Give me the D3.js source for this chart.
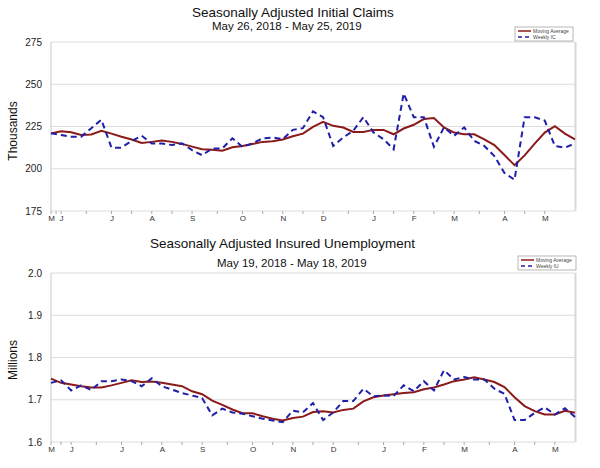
<!DOCTYPE html>
<html>
<head>
<meta charset="utf-8">
<script src="https://cdn.jsdelivr.net/npm/d3@7"></script>
<style>
  body { margin: 0; background: #fff; }
  svg { font-family: "Liberation Sans", Arial, sans-serif; }
  .grid line { stroke: #dcdcdc; stroke-width: 1; }
  .x-axis text { font-size: 8px; fill: #333; }
  .x-axis line { stroke: #999; }
  .y-axis text { font-size: 10px; fill: #222; }
</style>
</head>
<body>
<div id="wrapper"></div>
<script>
// 1. Data

// initial claims, thousands, weeks from May 26 2018
const icStart = "2018-05-26";
const icWeekly = [221, 220, 219, 219, 224, 229, 212.5, 212.5, 216.5, 219.5, 215, 215, 214, 215,
  211, 208, 212, 212, 218, 213, 215, 218, 218.5, 217.5, 223, 224, 234, 230.5, 213.5, 218.5,
  222.5, 230.5, 221.5, 217.5, 211.5, 244.5, 230.5, 230.5, 213, 224.5, 219.5, 224.5, 216.5,
  213.5, 207.5, 197.5, 193.5, 230.5, 230.5, 228.5, 213.5, 212.5, 215];
const icAverage = [220.8, 222.2, 221.6, 220, 220.3, 222.4, 220.8, 218.9, 217.3, 215.3, 215.9,
  216.7, 215.9, 214.7, 213.1, 211.5, 211.3, 210.7, 212.7, 213.5, 214.7, 215.9, 216.3, 217.3,
  219.2, 220.8, 224.8, 227.7, 225.4, 224.4, 221.8, 221.8, 223, 223, 220.4, 223.8, 226, 229.4,
  230, 224.4, 221.4, 220.4, 220.4, 217.4, 214, 208.1, 202.1, 207.9, 214.9, 221.4, 225.2,
  220.8, 217.4];

// insured unemployment, millions, weeks from May 19 2018
const iuStart = "2018-05-19";
const iuWeekly = [1.740, 1.746, 1.722, 1.734, 1.723, 1.744, 1.744, 1.748, 1.744, 1.732, 1.751,
  1.732, 1.724, 1.716, 1.710, 1.704, 1.663, 1.679, 1.670, 1.667, 1.661, 1.655, 1.651, 1.647,
  1.674, 1.670, 1.692, 1.652, 1.670, 1.697, 1.697, 1.726, 1.708, 1.710, 1.709, 1.734, 1.720,
  1.744, 1.722, 1.770, 1.748, 1.754, 1.748, 1.748, 1.726, 1.714, 1.652, 1.652, 1.669, 1.682,
  1.665, 1.680, 1.659];
const iuAverage = [1.750, 1.740, 1.736, 1.732, 1.729, 1.729, 1.734, 1.740, 1.746, 1.742, 1.743,
  1.740, 1.736, 1.732, 1.720, 1.713, 1.698, 1.688, 1.677, 1.668, 1.668, 1.661, 1.655, 1.651,
  1.657, 1.660, 1.671, 1.673, 1.670, 1.676, 1.679, 1.696, 1.706, 1.710, 1.713, 1.716, 1.718,
  1.725, 1.729, 1.736, 1.744, 1.748, 1.753, 1.748, 1.742, 1.730, 1.706, 1.685, 1.673, 1.665,
  1.665, 1.674, 1.669];

const monthTickDates = ["2018-06-02", "2018-07-07", "2018-08-04", "2018-09-01", "2018-10-06",
  "2018-11-03", "2018-12-01", "2019-01-05", "2019-02-02", "2019-03-02", "2019-04-06", "2019-05-04"];
const monthTickLabels = ["J", "J", "A", "S", "O", "N", "D", "J", "F", "M", "A", "M"];

const icTicks = [175, 200, 225, 250, 275];
const iuTicks = [1.6, 1.7, 1.8, 1.9, 2.0];

// 2. Dimensions

const dimensions = {
  width: 600,
  height: 468,
  left: 51,
  right: 575
};

const parseDate = d3.timeParse("%Y-%m-%d");

const wrapper = d3.select("#wrapper")
  .append("svg")
  .attr("width", dimensions.width)
  .attr("height", dimensions.height);

function drawPanel(opts) {
  const start = parseDate(opts.start);
  const dates = opts.weekly.map((d, i) => d3.timeDay.offset(start, 7 * i));

  const xScale = d3.scaleTime()
    .domain(d3.extent(dates))
    .range([dimensions.left, dimensions.right]);

  const yScale = d3.scaleLinear()
    .domain(d3.extent(opts.ticks))
    .range([opts.bottom, opts.top]);

  const g = wrapper.append("g");

  // titles
  g.append("text")
    .attr("x", opts.titleX)
    .attr("y", opts.titleY)
    .style("font-size", "13.5px")
    .style("fill", "#111")
    .text(opts.title);
  g.append("text")
    .attr("x", opts.subX)
    .attr("y", opts.subY)
    .style("font-size", "11.5px")
    .style("fill", "#111")
    .text(opts.subtitle);

  // gridlines
  g.append("g")
    .attr("class", "grid")
    .selectAll("line")
    .data(opts.ticks)
    .join("line")
    .attr("x1", dimensions.left)
    .attr("x2", dimensions.right)
    .attr("y1", d => yScale(d))
    .attr("y2", d => yScale(d));

  // frame: left axis line and a soft right edge
  g.append("line")
    .attr("x1", dimensions.left).attr("x2", dimensions.left)
    .attr("y1", opts.top).attr("y2", opts.bottom)
    .attr("stroke", "#c8c8c8");
  g.append("line")
    .attr("x1", dimensions.right + 0.5).attr("x2", dimensions.right + 0.5)
    .attr("y1", opts.top).attr("y2", opts.bottom)
    .attr("stroke", "#d8d8d8").attr("stroke-width", 2);

  // y axis
  const yAxis = g.append("g")
    .attr("class", "y-axis")
    .attr("transform", `translate(${dimensions.left - 6},0)`)
    .call(d3.axisLeft(yScale).tickValues(opts.ticks).tickFormat(opts.format).tickSize(0));
  yAxis.select(".domain").remove();

  g.append("text")
    .attr("transform", `translate(${opts.yLabelX},${opts.yLabelY}) rotate(-90)`)
    .attr("text-anchor", "middle")
    .style("font-size", "12px")
    .style("fill", "#111")
    .text(opts.yLabel);

  // x axis
  const tickDates = [start, ...monthTickDates.map(parseDate)];
  const tickLabels = ["M", ...monthTickLabels];
  const xAxis = g.append("g")
    .attr("class", "x-axis")
    .attr("transform", `translate(0,${opts.bottom})`)
    .call(d3.axisBottom(xScale)
      .tickValues(tickDates)
      .tickSize(0)
      .tickPadding(4)
      .tickFormat((d, i) => tickLabels[i]));
  xAxis.select(".domain").remove();

  // minor ticks between month labels
  const minor = d3.pairs(tickDates).map(([a, b]) => new Date((+a + +b) / 2));
  g.append("g")
    .selectAll("line")
    .data(minor.concat(tickDates))
    .join("line")
    .attr("x1", d => xScale(d)).attr("x2", d => xScale(d))
    .attr("y1", opts.bottom).attr("y2", opts.bottom + 3)
    .attr("stroke", "#aaa");

  // lines
  const line = d3.line()
    .x((d, i) => xScale(dates[i]))
    .y(d => yScale(d));

  g.append("path")
    .attr("d", line(opts.average))
    .attr("fill", "none")
    .attr("stroke", "#8b1a1a")
    .attr("stroke-width", 2);

  g.append("path")
    .attr("d", line(opts.weekly))
    .attr("fill", "none")
    .attr("stroke", "#1f1fa8")
    .attr("stroke-width", 2)
    .attr("stroke-dasharray", "6,4");

  // legend
  const lg = g.append("g")
    .attr("transform", `translate(${opts.legendX},${opts.legendY})`);
  lg.append("rect")
    .attr("width", 58).attr("height", 14)
    .attr("fill", "#fff").attr("stroke", "#999").attr("stroke-width", 0.7);
  lg.append("line")
    .attr("x1", 3).attr("x2", 16).attr("y1", 4).attr("y2", 4)
    .attr("stroke", "#8b1a1a").attr("stroke-width", 1.5);
  lg.append("line")
    .attr("x1", 3).attr("x2", 16).attr("y1", 10).attr("y2", 10)
    .attr("stroke", "#1f1fa8").attr("stroke-width", 1.5)
    .attr("stroke-dasharray", "4,3");
  lg.append("text").attr("x", 18).attr("y", 5.8)
    .style("font-size", "5px").style("fill", "#444").text("Moving Average");
  lg.append("text").attr("x", 18).attr("y", 11.8)
    .style("font-size", "5px").style("fill", "#444").text(opts.legendWeekly);
}

drawPanel({
  start: icStart,
  weekly: icWeekly,
  average: icAverage,
  ticks: icTicks,
  format: d3.format("d"),
  top: 42,
  bottom: 211,
  title: "Seasonally Adjusted Initial Claims",
  titleX: 192, titleY: 17,
  subtitle: "May 26, 2018 - May 25, 2019",
  subX: 212, subY: 30,
  yLabel: "Thousands",
  yLabelX: 17, yLabelY: 131,
  legendX: 515, legendY: 27,
  legendWeekly: "Weekly IC"
});

drawPanel({
  start: iuStart,
  weekly: iuWeekly,
  average: iuAverage,
  ticks: iuTicks,
  format: d3.format(".1f"),
  top: 273,
  bottom: 442,
  title: "Seasonally Adjusted Insured Unemployment",
  titleX: 150, titleY: 248,
  subtitle: "May 19, 2018 - May 18, 2019",
  subX: 217, subY: 267,
  yLabel: "Millions",
  yLabelX: 17, yLabelY: 360,
  legendX: 518, legendY: 256,
  legendWeekly: "Weekly IU"
});
</script>
</body>
</html>
